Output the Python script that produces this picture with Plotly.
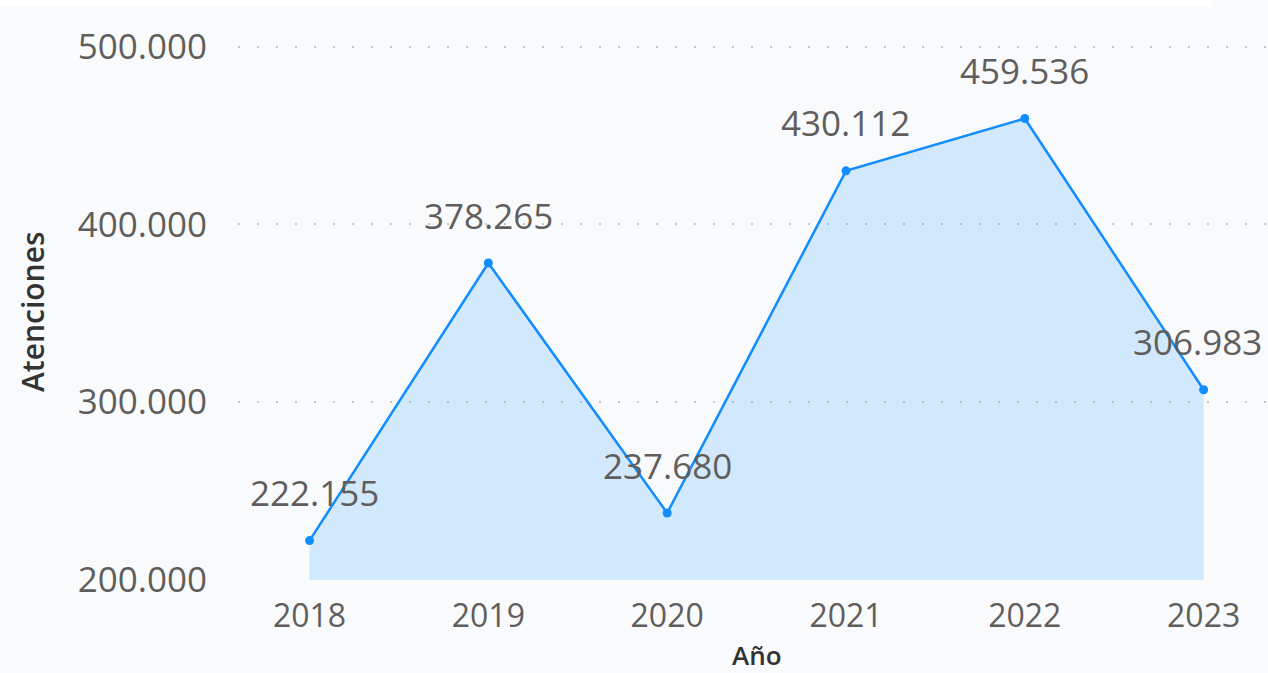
import plotly.graph_objects as go

years = ["2018", "2019", "2020", "2021", "2022", "2023"]
atenciones = [222155, 378265, 237680, 430112, 459536, 306983]
y_ticks = [200000, 300000, 400000, 500000]
y_tick_labels = ["200.000", "300.000", "400.000", "500.000"]

W, H = 1268, 673
L, R, T, B = 238, 0, 11, 93
FONT = "Open Sans, Noto Sans, sans-serif"
PW, PH = W - L - R, H - T - B

def fmt(v):
    return f"{v:,}".replace(",", ".")

fig = go.Figure()
fig.add_trace(go.Scatter(
    x=list(range(len(years))), y=atenciones,
    mode="lines+markers",
    line=dict(color="#118DFF", width=2.5),
    marker=dict(size=9, color="#118DFF"),
    fill="tozeroy", fillcolor="rgba(17,141,255,0.17)",
    hoverinfo="skip", showlegend=False,
))

label_xshift = [5, 0, 0, 0, 0, -6]
for i, v in enumerate(atenciones):
    fig.add_annotation(
        x=i, y=v, text=fmt(v), showarrow=False,
        yshift=48, xshift=label_xshift[i],
        font=dict(family=FONT, size=35, color="#605E5C"),
    )

# axis titles (placed like the reference)
fig.add_annotation(
    text="Atenciones", xref="paper", yref="paper",
    x=(32 - L) / PW, y=1 - (312 - T) / PH,
    textangle=-90, showarrow=False, xanchor="center", yanchor="middle",
    font=dict(size=30, color="#333333", family=FONT, weight=600),
)
fig.add_annotation(
    text="Año", xref="paper", yref="paper",
    x=(757 - L) / PW, y=1 - (655 - T) / PH,
    showarrow=False, xanchor="center", yanchor="middle",
    font=dict(size=26, color="#333333", family=FONT, weight=600),
)

# white strip on top
fig.add_shape(type="rect", xref="paper", yref="paper",
              x0=-L / PW, x1=(1212 - L) / PW,
              y0=1 + (T - 7) / PH, y1=1 + T / PH,
              fillcolor="white", line=dict(width=0), layer="below")

fig.update_layout(
    width=W, height=H,
    margin=dict(l=L, r=R, t=T, b=B),
    paper_bgcolor="#F9FAFC", plot_bgcolor="rgba(0,0,0,0)",
    separators=",.",
    font=dict(family=FONT, color="#605E5C"),
    xaxis=dict(
        tickmode="array", tickvals=list(range(len(years))), ticktext=years,
        range=[-0.4, 5.36], showgrid=False, zeroline=False, showline=False,
        tickfont=dict(size=32, color="#605E5C"), ticklen=0, ticks="",
        ticklabelstandoff=14,
        automargin=False,
    ),
    yaxis=dict(
        range=[200000, 520000], tickmode="array", tickvals=y_ticks, ticktext=y_tick_labels,
        showgrid=True, gridcolor="#C8C8C8", gridwidth=2, griddash="2px,17px",
        zeroline=False, showline=False, ticks="", ticklen=0,
        ticklabelstandoff=30, layer="above traces",
        tickfont=dict(size=35, color="#605E5C"),
        automargin=False,
    ),
)

fig.write_html("out.html", config={"displayModeBar": False},
               post_script="document.body.style.margin='0';document.body.style.background='#F9FAFC';")
